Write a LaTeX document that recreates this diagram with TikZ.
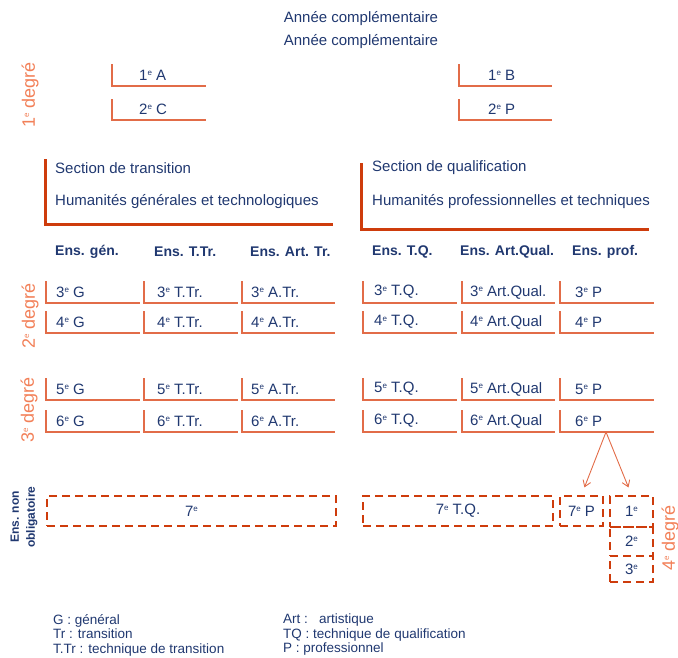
\documentclass[tikz,border=0pt]{standalone}
\usepackage{fontspec}
\setmainfont{Liberation Sans}
\usetikzlibrary{positioning,arrows.meta}
\definecolor{bleu}{RGB}{32,56,112}
\definecolor{rouge}{RGB}{206,60,12}
\definecolor{orangel}{RGB}{226,108,72}
\definecolor{oranged}{RGB}{242,128,88}
\newcommand\ieme{\raisebox{0.6ex}{\fontsize{8}{8}\selectfont e}}
\tikzset{
  txt/.style={text=bleu,inner sep=0pt,font=\fontsize{15}{17}\selectfont},
  cel/.style={txt,anchor=west},
  ent/.style={cel,font=\bfseries\fontsize{14}{16}\selectfont},
  deg/.style={text=oranged,inner sep=0pt,rotate=90,font=\fontsize{18}{20}\selectfont},
  trait/.style={draw=orangel,line width=1.2pt},
  sect/.style={draw=rouge,line width=3pt},
  tiret/.style={txt,draw=rouge,line width=2.2pt,dash pattern=on 8pt off 5pt},
  fleche/.style={-{Straight Barb[length=6pt,width=8pt]},draw=orangel,line width=0.9pt,shorten >=8pt},
  leg/.style={text=bleu,inner sep=0pt,anchor=north west,align=left,font=\fontsize{13.5}{14.5}\selectfont}
}
\begin{document}
\begin{tikzpicture}[x=1pt,y=-1pt]
\useasboundingbox (0,0) rectangle (678,657);
% en-tete
\node[txt] (ac1) at (361,19) {Année complémentaire};
\node[txt] (ac2) at (361,42) {Année complémentaire};
% premier degre
\draw[trait] (112,64)|-(206,86);
\draw[trait] (112,99)|-(206,120);
\draw[trait] (459,64)|-(552,86);
\draw[trait] (459,99)|-(552,120);
\node[cel] (a1) at (139,75) {1\ieme\ A};
\node[cel] (c2) at (139,109) {2\ieme\ C};
\node[cel] (b1) at (488,75) {1\ieme\ B};
\node[cel] (p2) at (488,109) {2\ieme\ P};
\node[deg] (d1) at (30,95) {1\ieme\ degré};
% sections
\draw[sect] (45,159)|-(333,224);
\draw[sect] (361,163)|-(649,229);
\node[cel] (st) at (55,168) {Section de transition};
\node[cel] (ht) at (55,202) {Humanités générales et technologiques};
\node[cel] (sq) at (372,168) {Section de qualification};
\node[cel] (hq) at (372,202) {Humanités professionnelles et techniques};
% enseignements
\node[ent] (eg) at (55,252) {Ens. gén.};
\node[ent] (ettr) at (154,252) {Ens. T.Tr.};
\node[ent] (eatr) at (250,252) {Ens. Art. Tr.};
\node[ent] (etq) at (372,252) {Ens. T.Q.};
\node[ent] (eaq) at (460,252) {Ens. Art.Qual.};
\node[ent] (ep) at (572,252) {Ens. prof.};
% 2e et 3e degres
\foreach \r/\y/\q in {3/281/.,4/311/{},5/378/{},6/410/{}}{
  \foreach \xa/\xb in {46/140,144/238,242/335,363/457,462/555,560/654}
    \draw[trait] (\xa,\y)|-(\xb,\y+22);
  \node[cel] (g\r) at (56,\y+11) {\r\ieme\ G};
  \node[cel] (ttr\r) at (157,\y+11) {\r\ieme\ T.Tr.};
  \node[cel] (atr\r) at (251,\y+11) {\r\ieme\ A.Tr.};
  \node[cel] (tq\r) at (374,\y+11) {\r\ieme\ T.Q.};
  \node[cel] (aq\r) at (470,\y+11) {\r\ieme\ Art.Qual\q};
  \node[cel] (p\r) at (575,\y+11) {\r\ieme\ P};
}
\node[deg] (d2) at (30,316) {2\ieme\ degré};
\node[deg] (d3) at (29,410) {3\ieme\ degré};
% enseignement non obligatoire
\node[tiret,minimum width=289pt,minimum height=30pt] (s7) at (191.5,511) {7\ieme};
\node[tiret,minimum width=190pt,minimum height=30pt] (tq7) at (458,511) {7\ieme\ T.Q.};
\node[tiret,minimum width=43pt,minimum height=30pt] (p7) at (581.5,511) {7\ieme\ P};
\node[tiret,minimum width=43pt,minimum height=31pt] (q1) at (631.5,511.5) {1\ieme};
\node[tiret,minimum width=43pt,minimum height=29pt] (q2) at (631.5,541.5) {2\ieme};
\node[tiret,minimum width=43pt,minimum height=26pt] (q3) at (631.5,569) {3\ieme};
\node[deg] (d4) at (670,538) {4\ieme\ degré};
\node[text=bleu,inner sep=0pt,rotate=90,align=center,font=\bfseries\fontsize{12}{16}\selectfont] (eno) at (24,517) {Ens. non\\obligatoire};
\coordinate (six) at (606,432);
\draw[fleche] (six) -- (p7.north);
\draw[fleche] (six) -- (q1.north);
% legende
\node[leg] (lg1) at (53,614) {G : général\\Tr : transition\\T.Tr : technique de transition};
\node[leg] (lg2) at (283,614) {Art :\ \ \ artistique\\TQ : technique de qualification\\P : professionnel};
\end{tikzpicture}
\end{document}
